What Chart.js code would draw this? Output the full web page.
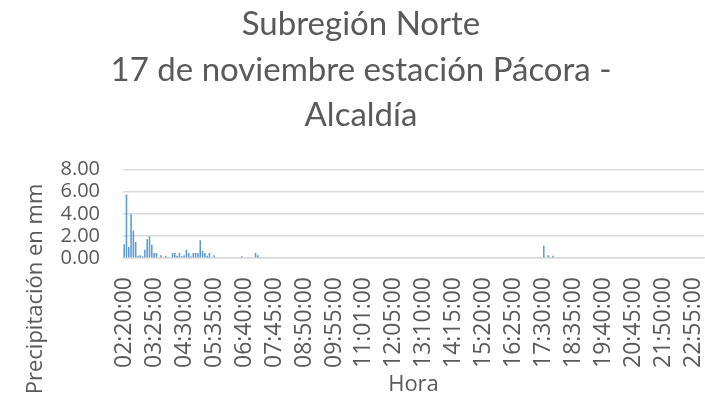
<!DOCTYPE html>
<html>
<head>
<meta charset="utf-8">
<script src="https://cdn.jsdelivr.net/npm/chart.js@4"></script>
<style>
  html, body { margin: 0; padding: 0; background: #fff; }
  #wrap { width: 705px; height: 404px; position: relative; }
</style>
</head>
<body>
<div id="wrap"><canvas id="rainChart"></canvas></div>
<script>
// category axis: 5-minute readings starting 02:20:00
const startMinute = 140;
const stepMinutes = 5;
const slotCount = 252;
const labelEvery = 13;
const oddLabels = { 104: "11:01:00" };

// readings with rain (mm)
const rainTimes = [
  "02:20:00", "02:25:00", "02:30:00", "02:35:00", "02:40:00", "02:45:00",
  "02:50:00", "02:55:00", "03:00:00", "03:05:00", "03:10:00", "03:15:00",
  "03:20:00", "03:25:00", "03:30:00", "03:40:00", "03:50:00", "04:05:00",
  "04:10:00", "04:15:00", "04:20:00", "04:25:00", "04:30:00", "04:35:00",
  "04:40:00", "04:45:00", "04:50:00", "04:55:00", "05:00:00", "05:05:00",
  "05:10:00", "05:15:00", "05:20:00", "05:25:00", "05:35:00", "06:35:00",
  "07:05:00", "07:10:00", "07:15:00", "17:30:00", "17:40:00", "17:50:00",
];
const rainMm = [
  1.25, 5.75, 1.0, 3.95, 2.5, 1.45,
  0.2, 0.25, 0.15, 0.75, 1.7, 1.95,
  1.2, 0.45, 0.45, 0.25, 0.2, 0.45,
  0.45, 0.2, 0.45, 0.15, 0.25, 0.75,
  0.45, 0.15, 0.45, 0.45, 0.45, 1.6,
  0.65, 0.45, 0.2, 0.45, 0.25, 0.15,
  0.45, 0.25, 0.1, 1.1, 0.25, 0.2,
];

const yMin = 0;
const yMax = 8;
const yStep = 2;

const titleLines = ["Subregión Norte", "17 de noviembre estación Pácora -", "Alcaldía"];
const yTitle = "Precipitación en mm";
const xTitle = "Hora";

const pad = (n) => String(n).padStart(2, "0");
const timeLabels = [];
for (let i = 0; i < slotCount; i++) {
  const m = startMinute + i * stepMinutes;
  timeLabels.push(oddLabels[i] || pad(Math.floor(m / 60)) + ":" + pad(m % 60) + ":00");
}

const textColor = "#595959";
const gridColor = "#d9d9d9";

// y title sits lower than the plot centre, like the original
const yTitlePlugin = {
  id: "yTitle",
  afterDraw(chart) {
    const c = chart.ctx;
    c.save();
    c.translate(36, 289);
    c.rotate(-Math.PI / 2);
    c.font = "22px 'Open Sans'";
    c.fillStyle = textColor;
    c.textAlign = "center";
    c.textBaseline = "middle";
    c.fillText(yTitle, 0, 0);
    c.restore();
  },
};

const ctx = document.getElementById("rainChart").getContext("2d");

new Chart(ctx, {
  type: "bar",
  data: {
    labels: timeLabels,
    datasets: [
      {
        label: "Precipitación",
        data: rainTimes.map((t, i) => ({ x: t, y: rainMm[i] })),
        backgroundColor: "#5b9bd5",
        barPercentage: 0.9,
        categoryPercentage: 0.75,
      },
    ],
  },
  options: {
    responsive: true,
    maintainAspectRatio: false,
    animation: false,
    layout: {
      padding: { left: 18, right: 1, top: 0, bottom: 6 },
    },
    scales: {
      x: {
        grid: { display: false, drawTicks: false },
        border: { display: true, color: gridColor, width: 1.5 },
        ticks: {
          autoSkip: false,
          minRotation: 90,
          maxRotation: 90,
          padding: 19,
          color: textColor,
          font: { family: "'Open Sans'", size: 23 },
          callback: (v, i) => (i % labelEvery === 0 ? timeLabels[i] : ""),
        },
        title: {
          display: true,
          text: xTitle,
          color: textColor,
          font: { family: "'Open Sans'", size: 22 },
          padding: 0,
        },
        afterFit(scale) {
          scale.height = 140;
          scale.paddingLeft = 0;
          scale.paddingRight = 0;
        },
      },
      y: {
        min: yMin,
        max: yMax,
        grid: { color: gridColor, lineWidth: 1.5, drawTicks: false },
        border: { display: false },
        ticks: {
          autoSkip: false,
          stepSize: yStep,
          padding: 23,
          color: textColor,
          font: { family: "'Open Sans'", size: 20 },
          callback: (v) => v.toFixed(2),
        },
        afterFit(scale) {
          scale.width = 105;
          scale.paddingTop = 0;
          scale.paddingBottom = 0;
        },
      },
    },
    plugins: {
      legend: { display: false },
      tooltip: { enabled: false },
      title: {
        display: true,
        text: titleLines,
        color: textColor,
        font: { family: "Lato", size: 33, weight: "normal", lineHeight: 1.38 },
        padding: { top: 2, bottom: 31 },
      },
    },
  },
  plugins: [yTitlePlugin],
});
</script>
</body>
</html>
